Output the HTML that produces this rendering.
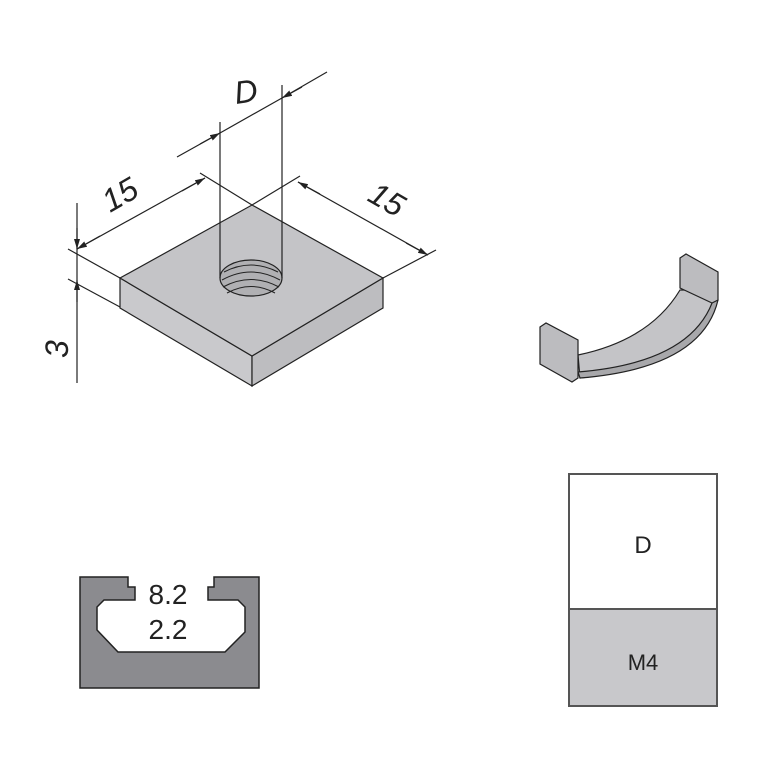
<!DOCTYPE html>
<html><head><meta charset="utf-8"><style>
html,body{margin:0;padding:0;background:#fff}
svg{display:block}
text{font-family:"Liberation Sans",sans-serif}
</style></head><body>
<svg width="768" height="768" viewBox="0 0 768 768" xmlns="http://www.w3.org/2000/svg">
<defs>
<marker id="a" viewBox="0 0 10 6" refX="10" refY="3" markerWidth="10" markerHeight="6" orient="auto" markerUnits="userSpaceOnUse">
<path d="M0,0 L10,3 L0,6 Z" fill="#222"/></marker>
</defs>
<g stroke="#222" stroke-width="1.2" fill="none">
<polygon points="120,278 120,308 252,386 252,356" fill="#c9c9cc"/>
<polygon points="252,356 252,386 383,308 383,278" fill="#bdbdc0"/>
<polygon points="120,278 252,205 383,278 252,356" fill="#c4c4c7"/>
<ellipse cx="251" cy="278" rx="31" ry="18" fill="#b0b0b3"/>
<path d="M224,272 Q251,258 278,272 M222,280 Q251,264 280,280 M223,287 Q251,272 279,287 M227,293 Q251,280 275,293" stroke-width="1"/>
<line x1="220" y1="122" x2="220" y2="278"/>
<line x1="282" y1="85" x2="282" y2="278"/>
<line x1="177" y1="157" x2="220" y2="133"/>
<line x1="200" y1="144" x2="220" y2="133" marker-end="url(#a)"/>
<line x1="220" y1="133" x2="282" y2="98"/>
<line x1="302" y1="87" x2="282" y2="98" marker-end="url(#a)"/>
<line x1="282" y1="98" x2="327" y2="72"/>
<line x1="252" y1="205" x2="200" y2="173"/>
<line x1="120" y1="278" x2="68" y2="249"/>
<line x1="77" y1="249" x2="205" y2="178"/>
<line x1="100" y1="236" x2="77" y2="249" marker-end="url(#a)"/>
<line x1="182" y1="191" x2="205" y2="178" marker-end="url(#a)"/>
<line x1="252" y1="205" x2="300" y2="176"/>
<line x1="383" y1="278" x2="436" y2="250"/>
<line x1="298" y1="182" x2="428" y2="255"/>
<line x1="320" y1="194" x2="298" y2="182" marker-end="url(#a)"/>
<line x1="406" y1="243" x2="428" y2="255" marker-end="url(#a)"/>
<line x1="77" y1="203" x2="77" y2="383"/>
<line x1="120" y1="307" x2="68" y2="279"/>
<line x1="77" y1="228" x2="77" y2="249" marker-end="url(#a)"/>
<line x1="77" y1="302" x2="77" y2="280" marker-end="url(#a)"/>
<!-- clip -->
<path d="M578,355 Q650,340 680,290 L716,290 Q700,365 580,378 Z" fill="#c4c4c7"/>
<path d="M580,378 Q702,368 718,300 L716,290 Q700,362 578,372 Z" fill="#a8a8ab"/>
<polygon points="540,327 546,323 578,340 578,378 572,382 540,364" fill="#bcbcbf"/>
<polygon points="680,258 686,254 718,272 718,300 712,303 680,288" fill="#bcbcbf"/>
<path d="M80,577 H128 V587 H135 V600 H104 L97,607 V630 L118,652 H225 L245,632 V607 L238,600 H208 V587 H214 V577 H259 V688 H80 Z" fill="#8b8b8f" stroke-width="1.5"/>
<rect x="569" y="609" width="148" height="97" fill="#c8c8cb" stroke-width="2" stroke="#555"/>
<rect x="569" y="474" width="148" height="135" fill="#fff" stroke-width="2" stroke="#555"/>
</g>
<g fill="#222">
<text x="0" y="0" font-size="32" font-style="italic" transform="translate(236,104) rotate(-8)">D</text>
<text x="0" y="0" font-size="32" font-style="italic" transform="translate(110,213) rotate(-30)">15</text>
<text x="0" y="0" font-size="32" font-style="italic" transform="translate(366,200) rotate(30)">15</text>
<text x="0" y="0" font-size="32" font-style="italic" transform="translate(68,358) rotate(-90)">3</text>
<text x="168" y="604" font-size="28" text-anchor="middle">8.2</text>
<text x="168" y="639" font-size="28" text-anchor="middle">2.2</text>
<text x="643" y="553" font-size="24" text-anchor="middle">D</text>
<text x="643" y="670" font-size="22" text-anchor="middle">M4</text>
</g>
</svg>
</body></html>
